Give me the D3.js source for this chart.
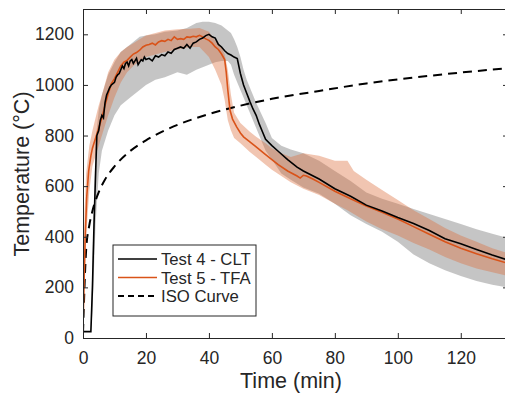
<!doctype html>
<html>
<head>
<script src="https://d3js.org/d3.v7.min.js"></script>
<style>
  body { margin: 0; background: #fff; }
  svg text { font-family: "Liberation Sans", Arial, sans-serif; fill: #262626; }
  .axis path, .axis line { stroke: #262626; }
</style>
</head>
<body>
<script>
// Test 4 - CLT (black) mean curve
var cltTime = [0,2.5,3,3.5,4,4.4,5,5.5,6,6.5,7,7.5,8,8.5,9,9.5,10,10.5,11,11.5,12,12.5,13,13.5,14,14.5,15,15.5,16,16.5,17,17.5,18,18.5,19,19.5,20,21,22,23,24,25,26,27,28,29,30,31,32,33,34,35,36,37,38,39,40,41,42,43,44,45,46,47,48,49,50,51,52,53,54,55,56,57,58,60,62,65,68,70,75,80,85,90,95,100,105,110,115,120,125,130,135];
var cltTemp = [25,25,200,450,650,800,820,860,880,870,930,960,975,990,1000,1005,1010,1030,1040,1045,1060,1075,1065,1085,1090,1075,1095,1100,1085,1095,1105,1080,1090,1100,1095,1110,1100,1105,1095,1115,1110,1120,1115,1130,1125,1140,1145,1150,1145,1160,1145,1165,1170,1180,1185,1195,1200,1190,1185,1160,1150,1135,1124,1118,1110,1104,1045,1000,967,935,905,880,845,815,785,760,738,705,675,660,628,590,560,525,502,476,452,425,392,372,350,328,308];
// Test 4 - CLT band
var cltBandTime = [2.5,3,4,5,6,8,10,12,15,18,20,23,26,30,33,36,38,40,42,44,46,47,48,49,50,51,52,53,55,58,60,63,66,70,75,80,85,90,95,100,105,110,115,120,125,130,135];
var cltBandLo = [25,100,450,650,740,820,880,920,950,980,1000,1020,1030,1050,1040,1060,1070,1080,1090,1095,1095,1080,1040,1010,980,950,920,890,830,740,705,650,625,595,570,530,485,450,420,380,330,295,268,245,225,210,200];
var cltBandHi = [40,300,780,900,960,1040,1090,1130,1160,1190,1195,1200,1210,1215,1225,1245,1250,1250,1245,1235,1215,1205,1180,1150,1110,1060,1020,990,930,850,790,760,745,730,700,660,620,575,550,530,510,490,470,450,430,412,395];

// Test 5 - TFA (orange) mean curve
var tfaTime = [0,0.3,0.7,1.2,1.8,2.5,3,4,5,6,7,8,9,10,11,12,13,14,15,16,17,18,19,20,21,22,23,24,25,26,27,28,29,30,31,32,33,34,35,36,37,38,39,40,41,42,43,44,45,45.5,46,46.7,47.5,48.8,50,51,53,55,58,60,62,65,68,69,70,71,73,75,80,85,90,95,100,105,110,115,120,125,130,135];
var tfaTemp = [50,200,400,560,660,720,750,790,830,870,920,965,1005,1025,1050,1075,1090,1097,1110,1122,1128,1137,1150,1157,1160,1165,1158,1170,1175,1172,1180,1175,1190,1180,1183,1180,1190,1188,1192,1190,1196,1190,1182,1176,1165,1150,1140,1122,1100,1050,980,900,865,834,810,795,775,755,725,705,685,660,640,632,643,640,628,615,580,550,522,497,470,440,410,380,355,333,313,295];
// Test 5 - TFA band
var tfaBandTime = [0,0.5,1,2,3,4,5,6,8,10,12,14,16,18,20,23,26,30,34,37,40,42,44,45,46,47,48,50,53,55,58,60,63,66,70,75,80,84,86,90,95,100,105,110,115,120,125,130,135];
var tfaBandLo = [30,200,400,580,680,720,760,800,880,950,1010,1050,1075,1095,1110,1120,1130,1140,1150,1150,1110,1060,1000,940,860,820,790,770,735,715,685,665,640,615,590,565,530,505,490,460,430,405,375,350,320,295,275,260,245];
var tfaBandHi = [150,500,650,760,820,870,920,960,1050,1100,1130,1150,1165,1180,1195,1205,1215,1220,1222,1225,1210,1175,1150,1120,1060,960,890,850,815,795,770,750,730,715,730,720,700,700,660,625,585,545,505,470,435,405,380,355,335];

// ISO 834 standard curve
var isoTime = [0,1,2,3,5,7,10,15,20,30,40,50,60,75,90,105,120,135];
var isoTemp = [20,349,445,502,576,626,678,739,781,842,885,918,945,976,1006,1029,1049,1066];

var xTicks = [0,20,40,60,80,100,120];
var yTicks = [0,200,400,600,800,1000,1200];
var legendNames = ["Test 4 - CLT", "Test 5 - TFA", "ISO Curve"];

var W = 505, H = 393;
var mLeft = 83, mRight = 508, mTop = 9, mBottom = 338;

var svg = d3.select("body").append("svg")
    .attr("width", W)
    .attr("height", H);

var x = d3.scaleLinear().domain([0, 135]).range([mLeft, mRight]);
var y = d3.scaleLinear().domain([0, 1300]).range([mBottom, mTop]);

svg.append("defs").append("clipPath").attr("id", "plot")
  .append("rect").attr("x", mLeft).attr("y", mTop)
  .attr("width", mRight - mLeft).attr("height", mBottom - mTop);

var plot = svg.append("g").attr("clip-path", "url(#plot)");

function band(t, lo, hi) {
  return d3.area()
    .x(function(d, i) { return x(t[i]); })
    .y0(function(d, i) { return y(lo[i]); })
    .y1(function(d, i) { return y(hi[i]); })(t);
}
function path(t, v, curve) {
  return d3.line()
    .x(function(d, i) { return x(t[i]); })
    .y(function(d, i) { return y(v[i]); })
    .curve(curve || d3.curveLinear)(t);
}

// shaded bands (gray first, salmon over it gives the brown overlap)
plot.append("path").attr("d", band(cltBandTime, cltBandLo, cltBandHi))
  .attr("fill", "rgb(150,150,150)").attr("fill-opacity", 0.55);
plot.append("path").attr("d", band(tfaBandTime, tfaBandLo, tfaBandHi))
  .attr("fill", "rgb(220,110,60)").attr("fill-opacity", 0.4);

// ISO dashed
plot.append("path").attr("d", path(isoTime, isoTemp, d3.curveMonotoneX))
  .attr("fill", "none").attr("stroke", "#000").attr("stroke-width", 2)
  .attr("stroke-dasharray", "9,6");

plot.append("path").attr("d", path(tfaTime, tfaTemp))
  .attr("fill", "none").attr("stroke", "#D95319").attr("stroke-width", 1.6);
plot.append("path").attr("d", path(cltTime, cltTemp))
  .attr("fill", "none").attr("stroke", "#000").attr("stroke-width", 1.6);

// axes, matlab style box with inner ticks
svg.append("g").attr("class", "axis")
  .attr("transform", "translate(0," + mBottom + ")")
  .call(d3.axisBottom(x).tickValues(xTicks).tickSizeInner(-5).tickSizeOuter(0).tickPadding(13.5));
svg.append("g").attr("class", "axis")
  .attr("transform", "translate(0," + mTop + ")")
  .call(d3.axisTop(x).tickValues(xTicks).tickSizeInner(-5).tickSizeOuter(0).tickFormat(""));
svg.append("g").attr("class", "axis")
  .attr("transform", "translate(" + mLeft + ",0)")
  .call(d3.axisLeft(y).tickValues(yTicks).tickSizeInner(-5).tickSizeOuter(0).tickPadding(9).tickFormat(d3.format("d")));
svg.append("g").attr("class", "axis")
  .attr("transform", "translate(" + mRight + ",0)")
  .call(d3.axisRight(y).tickValues(yTicks).tickSizeInner(-5).tickSizeOuter(0).tickFormat(""));

svg.selectAll(".axis text").style("font-size", "17.5px").style("fill", "#262626");

svg.append("text").attr("x", 291).attr("y", 388)
  .attr("text-anchor", "middle").style("font-size", "21.5px").text("Time (min)");
svg.append("text")
  .attr("transform", "translate(29,174) rotate(-90)")
  .attr("text-anchor", "middle").style("font-size", "21.5px").text("Temperature (°C)");

// legend
var lg = svg.append("g").attr("transform", "translate(113,245)");
lg.append("rect").attr("width", 143).attr("height", 71)
  .attr("fill", "#fff").attr("stroke", "#262626").attr("stroke-width", 1);
var lstyles = [
  {c: "#000", d: null},
  {c: "#D95319", d: null},
  {c: "#000", d: "6,4"}
];
legendNames.forEach(function(name, i) {
  var ly = 14 + i * 18.5;
  lg.append("line").attr("x1", 5).attr("x2", 44).attr("y1", ly).attr("y2", ly)
    .attr("stroke", lstyles[i].c).attr("stroke-width", i == 2 ? 2 : 1.6)
    .attr("stroke-dasharray", lstyles[i].d);
  lg.append("text").attr("x", 48).attr("y", ly + 6)
    .style("font-size", "16.7px").text(name);
});
</script>
</body>
</html>
